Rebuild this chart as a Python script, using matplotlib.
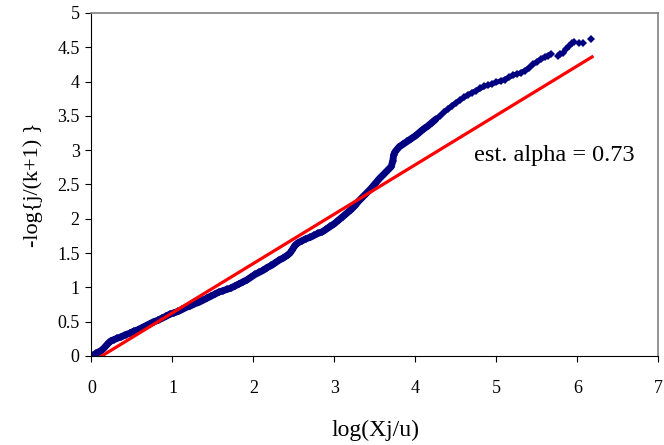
import numpy as np
import matplotlib.pyplot as plt

plt.rcParams['font.family'] = ['Liberation Serif', 'DejaVu Serif']

# points (log(Xj/u), -log{j/(k+1)})
log_x = [0.00, 0.03, 0.06, 0.09, 0.12, 0.15, 0.18, 0.21, 0.24, 0.28,
         0.32, 0.37, 0.42, 0.47, 0.52, 0.57, 0.62, 0.67, 0.72, 0.77,
         0.82, 0.87, 0.92, 0.97, 1.02, 1.07, 1.12, 1.17, 1.22, 1.27,
         1.32, 1.37, 1.42, 1.47, 1.52, 1.57, 1.62, 1.67, 1.72, 1.77,
         1.82, 1.87, 1.92, 1.97, 2.02, 2.07, 2.12, 2.17, 2.22, 2.27,
         2.32, 2.37, 2.42, 2.45, 2.48, 2.51, 2.55, 2.60, 2.65, 2.70,
         2.75, 2.80, 2.85, 2.90, 2.95, 3.00, 3.05, 3.10, 3.15, 3.20,
         3.25, 3.30, 3.35, 3.40, 3.45, 3.50, 3.55, 3.60, 3.65, 3.70,
         3.72, 3.73, 3.75, 3.80, 3.85, 3.90, 3.95, 4.00, 4.05, 4.10,
         4.15, 4.20, 4.25, 4.30, 4.35, 4.40, 4.45, 4.50, 4.55, 4.60,
         4.65, 4.70, 4.75, 4.80, 4.85, 4.90, 4.95, 5.00, 5.05, 5.10,
         5.15, 5.20, 5.25, 5.30, 5.35, 5.40, 5.45, 5.50, 5.55, 5.60,
         5.64, 5.67, 5.76, 5.79, 5.82, 5.86, 5.90, 5.93, 5.96, 6.02,
         6.07, 6.17]
neg_log_j = [0.00, 0.02, 0.04, 0.06, 0.08, 0.11, 0.15, 0.19, 0.22, 0.24,
             0.26, 0.28, 0.31, 0.33, 0.36, 0.38, 0.41, 0.44, 0.47, 0.50,
             0.52, 0.55, 0.58, 0.61, 0.63, 0.65, 0.68, 0.71, 0.73, 0.76,
             0.78, 0.81, 0.84, 0.87, 0.90, 0.93, 0.95, 0.97, 0.99, 1.02,
             1.05, 1.08, 1.11, 1.15, 1.19, 1.22, 1.25, 1.29, 1.32, 1.36,
             1.40, 1.43, 1.47, 1.50, 1.55, 1.61, 1.65, 1.68, 1.71, 1.73,
             1.76, 1.79, 1.81, 1.85, 1.89, 1.93, 1.98, 2.03, 2.08, 2.13,
             2.19, 2.26, 2.32, 2.38, 2.44, 2.51, 2.58, 2.64, 2.70, 2.76,
             2.84, 2.93, 2.98, 3.05, 3.09, 3.13, 3.17, 3.21, 3.26, 3.31,
             3.35, 3.40, 3.45, 3.50, 3.55, 3.60, 3.65, 3.69, 3.73, 3.77,
             3.81, 3.84, 3.87, 3.90, 3.93, 3.95, 3.97, 3.99, 4.01, 4.03,
             4.06, 4.09, 4.11, 4.13, 4.16, 4.20, 4.25, 4.29, 4.33, 4.36,
             4.38, 4.40, 4.38, 4.40, 4.42, 4.47, 4.52, 4.56, 4.57, 4.56,
             4.56, 4.62]

# fitted line end points
fit_x = [0.126, 6.18]
fit_y = [0.0, 4.36]

x = np.array(log_x)
y = np.array(neg_log_j)
lo = x < 4.3   # dense, thick part of the cloud
mid = (x >= 4.25) & (x < 5.7)

fig = plt.figure(figsize=(6.64, 4.45), dpi=100)
ax = fig.add_axes([0.1378, 0.2, 0.8539, 0.7708])

navy = '#000080'
ax.plot(x[lo], y[lo], color=navy, linewidth=5.0, solid_capstyle='round', solid_joinstyle='round')
ax.plot(x[mid], y[mid], color=navy, linewidth=3.6, solid_capstyle='round', solid_joinstyle='round')
ax.plot(x, y, linestyle='none', marker='D', markersize=4.3,
        color=navy, markeredgewidth=0)
ax.plot(fit_x, fit_y, color='#ff0000', linewidth=2.3)

ax.set_xlim(0, 7)
ax.set_ylim(0, 5)
ax.set_xticks(range(8))
ax.set_yticks(np.arange(0, 5.01, 0.5))
ax.set_yticklabels(['0', '0.5', '1', '1.5', '2', '2.5', '3', '3.5', '4', '4.5', '5'])

ax.tick_params(axis='x', direction='out', length=4.5, width=0.8, pad=12.5, labelsize=13)
ax.tick_params(axis='y', direction='out', length=4.5, width=0.8, pad=4, labelsize=13)

for s in ['left', 'bottom']:
    ax.spines[s].set_color('black')
for s in ['top', 'right']:
    ax.spines[s].set_color('#808080')
    ax.spines[s].set_linewidth(1.2)

ax.set_xlabel('log(Xj/u)', fontsize=17, labelpad=17)
ax.set_ylabel('-log{j/(k+1) }', fontsize=16, labelpad=10)

ax.text(6.71, 2.92, 'est. alpha = 0.73', fontsize=17.5, ha='right', va='center')

fig.savefig('out.png', dpi=100)
